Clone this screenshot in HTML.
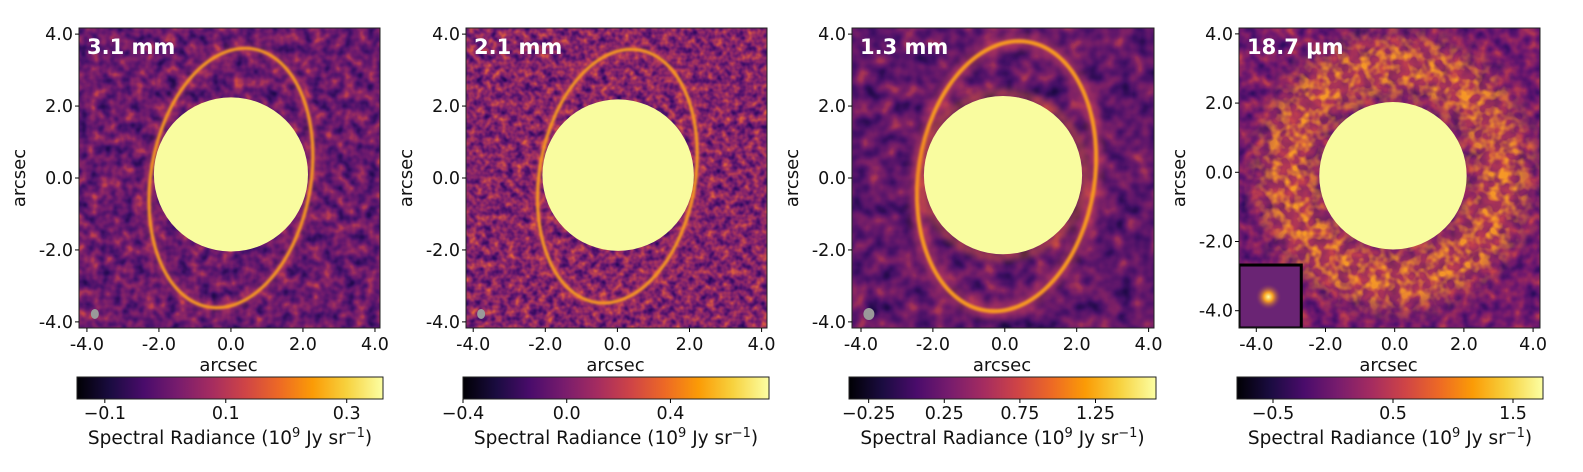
<!DOCTYPE html>
<html><head><meta charset="utf-8">
<style>
html,body{margin:0;padding:0;background:#fff;}
svg{display:block;font-family:"DejaVu Sans","Liberation Sans",sans-serif;}
filter{color-interpolation-filters:sRGB;}
</style></head>
<body>
<svg id="fig" width="1583" height="472" viewBox="0 0 1583 472" xmlns="http://www.w3.org/2000/svg">
<defs>
  <linearGradient id="inferno" x1="0" x2="1" y1="0" y2="0">
    <stop offset="0" stop-color="#000004"/>
    <stop offset="0.11" stop-color="#1b0c41"/>
    <stop offset="0.22" stop-color="#4a0c6b"/>
    <stop offset="0.33" stop-color="#781c6d"/>
    <stop offset="0.44" stop-color="#a52c60"/>
    <stop offset="0.55" stop-color="#cf4446"/>
    <stop offset="0.66" stop-color="#ed6925"/>
    <stop offset="0.77" stop-color="#fb9b06"/>
    <stop offset="0.88" stop-color="#f7d13d"/>
    <stop offset="1" stop-color="#fcffa4"/>
  </linearGradient>
  <filter id="noise1" x="0" y="0" width="100%" height="100%" color-interpolation-filters="sRGB">
    <feTurbulence type="fractalNoise" baseFrequency="0.09" numOctaves="2" seed="3"/>
    <feColorMatrix type="matrix" values="1 0 0 0 0  1 0 0 0 0  1 0 0 0 0  0 0 0 0 1"/>
    <feComponentTransfer>
      <feFuncR type="table" tableValues="0.05 0.15 0.28 0.42 0.55 0.75 0.92"/>
      <feFuncG type="table" tableValues="0.02 0.04 0.07 0.1 0.15 0.25 0.4"/>
      <feFuncB type="table" tableValues="0.2 0.33 0.42 0.43 0.4 0.3 0.15"/>
    </feComponentTransfer>
  </filter>
  <filter id="noise2" x="0" y="0" width="100%" height="100%" color-interpolation-filters="sRGB">
    <feTurbulence type="fractalNoise" baseFrequency="0.13" numOctaves="2" seed="7"/>
    <feColorMatrix type="matrix" values="1 0 0 0 0  1 0 0 0 0  1 0 0 0 0  0 0 0 0 1"/>
    <feComponentTransfer>
      <feFuncR type="table" tableValues="0.08 0.2 0.35 0.52 0.68 0.85 0.97"/>
      <feFuncG type="table" tableValues="0.02 0.04 0.08 0.14 0.22 0.36 0.55"/>
      <feFuncB type="table" tableValues="0.25 0.38 0.43 0.42 0.35 0.25 0.1"/>
    </feComponentTransfer>
  </filter>
  <filter id="noise3" x="0" y="0" width="100%" height="100%" color-interpolation-filters="sRGB">
    <feTurbulence type="fractalNoise" baseFrequency="0.06" numOctaves="2" seed="11"/>
    <feColorMatrix type="matrix" values="1 0 0 0 0  1 0 0 0 0  1 0 0 0 0  0 0 0 0 1"/>
    <feComponentTransfer>
      <feFuncR type="table" tableValues="0.04 0.14 0.26 0.38 0.5 0.68 0.88"/>
      <feFuncG type="table" tableValues="0.02 0.04 0.06 0.09 0.13 0.22 0.38"/>
      <feFuncB type="table" tableValues="0.18 0.3 0.4 0.42 0.4 0.32 0.2"/>
    </feComponentTransfer>
  </filter>
  <filter id="noise4" x="0" y="0" width="100%" height="100%" color-interpolation-filters="sRGB">
    <feTurbulence type="fractalNoise" baseFrequency="0.08" numOctaves="2" seed="5"/>
    <feColorMatrix type="matrix" values="1 0 0 0 0  1 0 0 0 0  1 0 0 0 0  0 0 0 0 1"/>
    <feComponentTransfer>
      <feFuncR type="table" tableValues="0.08 0.2 0.33 0.45 0.58 0.75 0.9"/>
      <feFuncG type="table" tableValues="0.03 0.05 0.07 0.1 0.15 0.25 0.4"/>
      <feFuncB type="table" tableValues="0.28 0.38 0.43 0.43 0.38 0.3 0.2"/>
    </feComponentTransfer>
  </filter>
  <filter id="ringNoise" x="0" y="0" width="100%" height="100%" color-interpolation-filters="sRGB">
    <feTurbulence type="fractalNoise" baseFrequency="0.1" numOctaves="2" seed="21"/>
    <feColorMatrix type="matrix" values="0 0 0 0 0.97  0 0 0 0 0.6  0 0 0 0 0.15  3 0 0 0 -1.2"/>
  </filter>
  <filter id="blurS" color-interpolation-filters="sRGB"><feGaussianBlur stdDeviation="1.1"/></filter>
  <filter id="blurM" color-interpolation-filters="sRGB"><feGaussianBlur stdDeviation="4"/></filter>
  <filter id="blurL" x="-20%" y="-20%" width="140%" height="140%" color-interpolation-filters="sRGB"><feGaussianBlur stdDeviation="12"/></filter>
  <radialGradient id="star"><stop offset="0" stop-color="#fcffa4"/><stop offset="0.35" stop-color="#f7a020"/><stop offset="1" stop-color="#7a2a6e" stop-opacity="0"/></radialGradient>
  <mask id="ring4mask"><circle id="ring4maskc" cx="1394" cy="173" r="108" fill="none" stroke="#fff" stroke-width="55" filter="url(#blurL)"/></mask>
</defs>
<g id="root"></g>
</svg>
<script>
// ---- data ----
const panelTitles = ["3.1 mm", "2.1 mm", "1.3 mm", "18.7 \u03bcm"];
const xTickValues = [-4, -2, 0, 2, 4];
const yTickValues = [-4, -2, 0, 2, 4];
const xLimits = [[-4.22, 4.14], [-4.2, 4.15], [-4.25, 4.15], [-4.5, 4.2]];
const yLimits = [[-4.17, 4.17], [-4.17, 4.17], [-4.17, 4.17], [-4.5, 4.17]];
const maskRadius = [2.14, 2.1, 2.2, 2.13];
const maskCenterX = [0.0, 0.02, -0.05, -0.05];
const maskCenterY = [0.1, 0.08, 0.08, -0.1];
const ringCenterX = [0.0, 0.0, 0.05];
const ringCenterY = [0.0, 0.05, 0.05];
const ringRx = [2.22, 2.16, 2.45];
const ringRy = [3.64, 3.56, 3.78];
const ringTilt = [10, 10, 9];
const disk4Radius = 3.1;
const cbarMin = [-0.146, -0.4, -0.38, -0.8];
const cbarMax = [0.36, 0.78, 1.65, 1.75];
const cbarTicks = [[-0.1, 0.1, 0.3], [-0.4, 0.0, 0.4], [-0.25, 0.25, 0.75, 1.25], [-0.5, 0.5, 1.5]];
const cbarTickLabels = [["\u22120.1", "0.1", "0.3"], ["\u22120.4", "0.0", "0.4"], ["\u22120.25", "0.25", "0.75", "1.25"], ["\u22120.5", "0.5", "1.5"]];

// ---- layout (pixels) ----
const frames = [[79, 380], [466, 767], [852, 1154], [1239, 1540]];
const frameTop = 28, frameBottom = 328;
const cbars = [[77, 383], [463, 769], [849, 1156], [1237, 1543]];
const cbTop = 377, cbBottom = 399;

const NS = "http://www.w3.org/2000/svg";
const root = document.getElementById("root");
function mk(tag, attrs, parent) {
  const e = document.createElementNS(NS, tag);
  for (const k in attrs) e.setAttribute(k, attrs[k]);
  (parent || root).appendChild(e);
  return e;
}
function fmt(v) { return (v < 0 ? "-" : "") + Math.abs(v).toFixed(1); }

for (let p = 0; p < 4; p++) {
  const [L, R] = frames[p];
  const sx = v => L + (v - xLimits[p][0]) / (xLimits[p][1] - xLimits[p][0]) * (R - L);
  const sy = v => frameBottom - (v - yLimits[p][0]) / (yLimits[p][1] - yLimits[p][0]) * (frameBottom - frameTop);
  const ux = (R - L) / (xLimits[p][1] - xLimits[p][0]);
  const uy = (frameBottom - frameTop) / (yLimits[p][1] - yLimits[p][0]);

  const g = mk("g", {});
  
  
  const clipId = "clip" + p;
  const cp = mk("clipPath", { id: clipId }, g);
  mk("rect", { x: L, y: frameTop, width: R - L, height: frameBottom - frameTop }, cp);
  const img = mk("g", { "clip-path": "url(#" + clipId + ")" }, g);
  
  
  mk("rect", { x: L, y: frameTop, width: R - L, height: frameBottom - frameTop, fill: "#5a1a6a" }, img);
  mk("rect", { x: L, y: frameTop, width: R - L, height: frameBottom - frameTop, filter: "url(#noise" + (p + 1) + ")" }, img);

  if (p < 3) {
    const cx = sx(ringCenterX[p]), cy = sy(ringCenterY[p]);
    const tr = "rotate(" + ringTilt[p] + " " + cx + " " + cy + ")";
    mk("ellipse", { cx, cy, rx: ringRx[p] * ux, ry: ringRy[p] * uy, fill: "none", stroke: "#c8405a", "stroke-width": p == 2 ? 16 : 10, opacity: p == 2 ? 0.55 : 0.4, filter: "url(#blurM)", transform: tr }, img);
    const ring = mk("ellipse", { cx, cy, rx: ringRx[p] * ux, ry: ringRy[p] * uy, fill: "none", stroke: "#f89a20", "stroke-width": p == 2 ? 4 : 3.2, filter: "url(#blurS)", transform: tr }, img);
    
    
    if (p == 2) {
      mk("circle", { cx: sx(maskCenterX[p]), cy: sy(maskCenterY[p]), r: maskRadius[p] * ux + 3, fill: "none", stroke: "#e86a28", "stroke-width": 6, opacity: 0.6, filter: "url(#blurM)" }, img);
    }
    const beam = mk("ellipse", { cx: sx(-3.78), cy: sy(-3.78), rx: p == 2 ? 5.5 : 4, ry: p == 2 ? 6 : 5, fill: "#9a9a9a" }, img);
    
    
  } else {
    const cx = sx(0), cy = sy(0);
    const disk = mk("circle", { cx, cy, r: disk4Radius * ux, fill: "none", stroke: "#d04848", "stroke-width": 50, opacity: 0.55, filter: "url(#blurL)" }, img);
    
    
    const mc = document.getElementById("ring4maskc");
    mc.setAttribute("cx", cx); mc.setAttribute("cy", cy); mc.setAttribute("r", disk4Radius * ux);
    mk("rect", { x: L, y: frameTop, width: R - L, height: frameBottom - frameTop, filter: "url(#ringNoise)", mask: "url(#ring4mask)" }, img);
    const ib = mk("rect", { x: L, y: sy(-2.68), width: sx(-2.7) - L, height: frameBottom - sy(-2.68), fill: "#6a2474", stroke: "#000", "stroke-width": 3 }, img);
    
    
    const st = mk("circle", { cx: sx(-3.65), cy: sy(-3.6), r: 13, fill: "url(#star)" }, img);
    
    
  }
  const mask = mk("circle", { cx: sx(maskCenterX[p]), cy: sy(maskCenterY[p]), r: maskRadius[p] * ux, fill: "#f9fc9f" }, img);
  
  

  mk("rect", { x: L, y: frameTop, width: R - L, height: frameBottom - frameTop, fill: "none", stroke: "#222", "stroke-width": 1 }, g);

  const t = mk("text", { x: L + 8, y: 54, fill: "#fff", "font-size": 21, "font-weight": "bold" }, g);
  t.textContent = panelTitles[p];
  
  

  xTickValues.forEach(v => {
    const x = sx(v);
    mk("line", { x1: x, x2: x, y1: frameBottom, y2: frameBottom + 4, stroke: "#000", "stroke-width": 1 }, g);
    const tl = mk("text", { x, y: 350, "font-size": 17.5, "text-anchor": "middle", fill: "#111" }, g);
    tl.textContent = fmt(v);
    
    
  });
  yTickValues.forEach(v => {
    const y = sy(v);
    mk("line", { x1: L - 4, x2: L, y1: y, y2: y, stroke: "#000", "stroke-width": 1 }, g);
    const tl = mk("text", { x: L - 6, y: y + 6, "font-size": 17.5, "text-anchor": "end", fill: "#111" }, g);
    tl.textContent = fmt(v);
    
    
  });
  const xl = mk("text", { x: (L + R) / 2 - 1, y: 371, "font-size": 18, "text-anchor": "middle", fill: "#111" }, g);
  xl.textContent = "arcsec";
  
  
  const yx = L - 54, yy = (frameTop + frameBottom) / 2;
  const yl = mk("text", { x: yx, y: yy, "font-size": 18, "text-anchor": "middle", fill: "#111", transform: "rotate(-90 " + yx + " " + yy + ")" }, g);
  yl.textContent = "arcsec";
  
  

  // colorbar
  const [cL, cR] = cbars[p];
  const cx = v => cL + (v - cbarMin[p]) / (cbarMax[p] - cbarMin[p]) * (cR - cL);
  const cb = mk("rect", { x: cL, y: cbTop, width: cR - cL, height: cbBottom - cbTop, fill: "url(#inferno)", stroke: "#222", "stroke-width": 1 }, g);
  
  
  cbarTicks[p].forEach((v, i) => {
    const x = cx(v);
    mk("line", { x1: x, x2: x, y1: cbBottom, y2: cbBottom + 4, stroke: "#000", "stroke-width": 1 }, g);
    const tl = mk("text", { x, y: 419, "font-size": 17.5, "text-anchor": "middle", fill: "#111" }, g);
    tl.textContent = cbarTickLabels[p][i];
    
    
  });
  const cl = mk("text", { x: (cL + cR) / 2, y: 444, "font-size": 18.5, "text-anchor": "middle", fill: "#111" }, g);
  
  
  cl.appendChild(document.createTextNode("Spectral Radiance (10"));
  const s1 = mk("tspan", { "font-size": 13, dy: -7 }, cl); s1.textContent = "9";
  const s2 = mk("tspan", { dy: 7 }, cl); s2.textContent = " Jy sr";
  const s3 = mk("tspan", { "font-size": 13, dy: -7 }, cl); s3.textContent = "\u22121";
  const s4 = mk("tspan", { dy: 7 }, cl); s4.textContent = ")";
}
</script>
</body></html>
